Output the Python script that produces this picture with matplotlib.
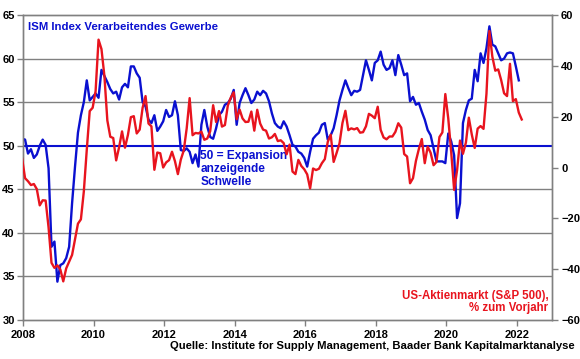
import numpy as np
import matplotlib
matplotlib.use("Agg")
import matplotlib.pyplot as plt
from matplotlib.ticker import MultipleLocator, FixedLocator

plt.rcParams['font.family'] = ['Liberation Sans', 'DejaVu Sans']
plt.rcParams['font.weight'] = 'bold'

# ISM Einkaufsmanagerindex Verarbeitendes Gewerbe, monatlich ab Dez 2007
ism = [50.8,
       50.7, 49.1, 49.6, 48.6, 49.0, 50.0, 50.7, 50.1, 47.4, 38.4, 39.0, 34.4,
       36.3, 36.5, 37.1, 38.4, 43.4, 47.6, 51.5, 53.5, 55.0, 57.5, 55.2, 55.6,
       56.0, 55.5, 58.7, 58.0, 57.3, 56.5, 56.0, 56.2, 55.3, 56.7, 57.1, 56.7,
       59.1, 59.1, 58.3, 57.8, 55.0, 54.5, 53.0, 52.6, 53.5, 51.7, 52.2, 52.8,
       54.1, 53.3, 53.5, 55.1, 53.5, 49.5, 49.4, 49.7, 49.3, 48.0, 49.0, 47.6,
       52.4, 54.1, 52.2, 51.0, 50.8, 52.0, 53.5, 53.9, 54.7, 54.9, 55.4, 56.4,
       52.4, 54.9, 55.8, 56.6, 55.8, 54.9, 55.3, 56.2, 55.8, 56.3, 56.0, 55.1,
       53.7, 52.6, 52.2, 52.0, 52.8, 52.2, 51.2, 50.1, 49.9, 49.3, 49.1, 48.6,
       47.6, 49.3, 50.8, 51.2, 51.5, 52.4, 52.6, 50.7, 51.2, 52.0, 53.5, 55.2,
       56.4, 57.5, 56.6, 55.8, 56.3, 56.2, 56.4, 58.1, 59.8, 58.7, 57.5, 59.5,
       59.8, 60.8, 59.3, 58.7, 58.9, 59.8, 58.1, 60.4, 59.3, 58.1, 58.3, 55.1,
       55.6, 54.7, 54.9, 53.9, 53.0, 51.8, 51.2, 49.7, 48.2, 48.2, 48.2, 48.0,
       51.4, 50.5, 48.9, 41.7, 43.4, 52.6, 54.1, 55.2, 55.4, 58.7, 57.4, 60.6,
       59.5, 61.2, 63.7, 61.6, 61.4, 60.6, 59.8, 60.0, 60.6, 60.7, 60.6, 59.1,
       57.5]

# S&P 500, % zum Vorjahr, monatlich ab Dez 2007
spx = [3.5,
       -4.2, -5.4, -6.9, -6.5, -8.5, -14.9, -12.9, -13.0, -23.6, -37.5, -39.5, -38.5,
       -40.1, -44.8, -39.7, -37.0, -34.4, -28.2, -22.1, -20.4, -9.4, 7.0, 22.2, 23.5,
       30.0, 50.3, 46.6, 36.0, 18.5, 12.1, 11.6, 2.8, 8.0, 14.2, 7.8, 12.8,
       19.8, 20.2, 13.4, 14.9, 23.5, 28.1, 17.3, 16.2, -0.9, 5.9, 5.6, 0.0,
       2.0, 2.9, 6.2, 2.5, -2.6, 3.1, 6.7, 15.4, 27.3, 12.7, 13.6, 13.4,
       14.1, 10.9, 11.4, 14.3, 24.5, 17.9, 22.2, 16.1, 16.7, 24.4, 27.5, 29.6,
       19.0, 22.8, 19.3, 17.9, 18.0, 22.0, 14.5, 22.7, 17.3, 14.9, 14.5, 11.4,
       11.9, 13.2, 10.4, 10.7, 9.6, 5.2, 9.0, -1.6, -2.6, 3.0, 0.6, -0.7,
       -2.7, -8.2, -0.4, -1.0, -0.5, 1.7, 3.3, 10.1, 12.9, 2.2, 5.7, 9.5,
       17.5, 22.3, 14.7, 15.4, 15.0, 15.5, 13.7, 13.9, 16.2, 21.1, 20.4, 19.4,
       23.9, 14.8, 11.8, 11.1, 12.2, 12.2, 14.0, 17.4, 15.7, 5.3, 4.3, -6.2,
       -4.2, 2.6, 7.3, 11.2, 1.7, 8.2, 5.8, 0.9, 2.2, 12.0, 13.8, 28.9,
       19.3, 6.1, -8.8, -1.1, 10.6, 5.4, 9.8, 19.6, 13.0, 7.7, 15.3, 16.3,
       15.2, 29.0, 53.7, 43.6, 38.1, 38.6, 34.4, 29.2, 28.1, 40.8, 26.1, 26.9,
       21.6, 18.9]

years = [2008, 2010, 2012, 2014, 2016, 2018, 2020, 2022]

BLUE = '#0a10d0'
RED = '#e8141e'
GRID = '#808080'

# Monatsposition (Dez 2007 = erster Punkt)
t_ism = 2007 + 11.7 / 12 + np.arange(len(ism)) / 12
t_spx = 2007 + 11.7 / 12 + np.arange(len(spx)) / 12

fig = plt.figure(figsize=(5.8, 3.59), dpi=100)
ax = fig.add_axes([23 / 580, 1 - 320 / 359, 529 / 580, 305 / 359])
ax2 = ax.twinx()

ax.set_xlim(2008, 2023)
ax.set_ylim(30, 65)
ax2.set_ylim(-60, 60)

for v in [35, 40, 45, 55, 60]:
    ax.axhline(v, color=GRID, lw=1.0, zorder=1)
ax.axhline(50, color=BLUE, lw=1.5, zorder=2)

ax.plot(t_ism, ism, color=BLUE, lw=1.7, zorder=3)
ax2.plot(t_spx, spx, color=RED, lw=1.7, zorder=3)

ax.xaxis.set_major_locator(FixedLocator(years))
ax.yaxis.set_major_locator(MultipleLocator(5))
ax2.yaxis.set_major_locator(MultipleLocator(20))

for a in (ax, ax2):
    for s in a.spines.values():
        s.set_color(GRID)
        s.set_linewidth(1.0)
    a.tick_params(colors='black', labelsize=8, length=4, width=1.0)
    a.tick_params(axis='both', color=GRID)
ax.tick_params(axis='y', pad=2)
ax2.tick_params(axis='y', pad=2.5)
ax.tick_params(axis='x', pad=3)

for lbl in ax.get_xticklabels() + ax.get_yticklabels() + ax2.get_yticklabels():
    lbl.set_fontweight('bold')

ax.text(0.01, 0.96, 'ISM Index Verarbeitendes Gewerbe', transform=ax.transAxes,
        color=BLUE, fontsize=8.2, fontweight='bold', va='center', ha='left')
ax.text(0.335, 0.556, '50 = Expansion\nanzeigende\nSchwelle', transform=ax.transAxes,
        color=BLUE, fontsize=8.6, fontweight='bold', va='top', ha='left', linespacing=1.1)
ax.text(0.993, 0.02, 'US-Aktienmarkt (S&P 500),\n% zum Vorjahr', transform=ax.transAxes,
        color=RED, fontsize=8.3, fontweight='bold', va='bottom', ha='right', linespacing=1.0)
fig.text(575 / 580, 1 - 346 / 359,
         'Quelle: Institute for Supply Management, Baader Bank Kapitalmarktanalyse',
         color='black', fontsize=8.1, fontweight='bold', va='center', ha='right')

fig.savefig('out.png', dpi=100, facecolor='white')
